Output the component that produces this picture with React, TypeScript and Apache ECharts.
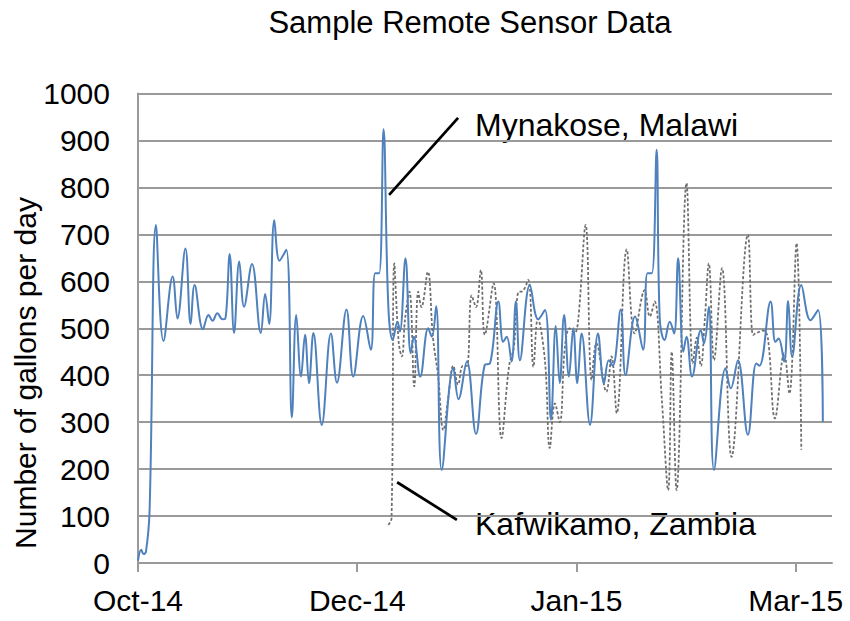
import React, { useEffect, useRef } from "react";
import * as echarts from "echarts";

const chartTitle = "Sample Remote Sensor Data";
const yAxisTitle = "Number of gallons per day";
const xTickValues = [0, 55, 110, 165];
const xTickLabels = ["Oct-14", "Dec-14", "Jan-15", "Mar-15"];
const xMax = 174.1;

const malawiName = "Mynakose, Malawi";
const zambiaName = "Kafwikamo, Zambia";

// [day index, gallons per day]
const malawi: [number, number][] = [
  [0.0, 5], [0.8, 28], [1.4, 19], [2.0, 24], [2.9, 110], [4.5, 720], [6.4, 473], [8.7, 610],
  [9.9, 521], [11.9, 670], [13.2, 509], [14.2, 592], [16.3, 498], [17.7, 528], [18.7, 516],
  [19.9, 532], [21.2, 519], [21.9, 520], [23.0, 658], [24.1, 490], [25.4, 642], [26.6, 546],
  [28.6, 637], [30.8, 490], [31.9, 573], [32.9, 509], [34.2, 730], [35.5, 644], [37.2, 667],
  [38.6, 310], [39.7, 528], [40.9, 397], [41.9, 486], [42.9, 383], [44.0, 490], [46.1, 294],
  [48.4, 489], [49.9, 384], [52.3, 540], [54.0, 397], [56.5, 526], [58.4, 454], [59.5, 617],
  [60.5, 617], [61.6, 924], [62.8, 546], [63.9, 475], [65.1, 514], [65.7, 493], [67.1, 649],
  [68.4, 447], [69.2, 482], [70.8, 397], [72.8, 500], [73.7, 482], [74.8, 547], [76.2, 198],
  [79.1, 415], [80.4, 349], [82.5, 429], [84.8, 275], [87.0, 422], [88.3, 425], [90.4, 557],
  [91.6, 471], [92.5, 482], [93.7, 429], [94.8, 557], [95.8, 432], [98.3, 592], [100.4, 519],
  [102.1, 539], [103.6, 305], [104.8, 505], [105.8, 383], [106.9, 528], [108.1, 397],
  [109.2, 500], [110.2, 383], [111.3, 489], [113.4, 294], [115.4, 489], [116.9, 383],
  [118.1, 432], [119.1, 420], [121.1, 540], [122.3, 400], [124.7, 525], [126.7, 454],
  [127.8, 617], [128.9, 617], [130.1, 880], [130.9, 518], [132.1, 475], [133.4, 514],
  [134.5, 489], [135.5, 649], [136.8, 450], [137.6, 482], [139.0, 397], [141.2, 496],
  [142.0, 468], [143.2, 546], [144.5, 198], [147.4, 415], [148.7, 372], [150.5, 432],
  [153.0, 273], [155.1, 425], [155.9, 420], [158.7, 557], [159.9, 471], [160.7, 478],
  [162.1, 429], [163.1, 558], [164.1, 440], [166.4, 592], [168.7, 517], [170.6, 539],
  [171.8, 301],
];

const zambia: [number, number][] = [
  [62.8, 81], [63.6, 95], [64.3, 638], [65.4, 470], [66.2, 440], [67.0, 520], [68.1, 578],
  [69.3, 376], [70.3, 578], [71.1, 545], [72.7, 620], [74.0, 480], [75.3, 397], [76.6, 283],
  [77.8, 350], [79.1, 420], [80.3, 380], [81.5, 420], [82.5, 420], [83.7, 570], [84.8, 545],
  [86.0, 624], [87.0, 486], [89.2, 596], [91.2, 266], [93.1, 420], [94.3, 460], [95.3, 575],
  [96.6, 580], [97.9, 603], [99.2, 418], [100.3, 520], [102.1, 430], [103.3, 245],
  [104.6, 340], [105.8, 300], [107.1, 460], [108.3, 500], [109.5, 490], [110.4, 515],
  [112.3, 720], [113.8, 390], [115.0, 468], [117.5, 365], [118.8, 440], [120.1, 319],
  [122.6, 668], [124.6, 489], [127.1, 581], [128.4, 525], [129.6, 557], [131.4, 350],
  [133.0, 155], [133.9, 450], [135.1, 155], [137.6, 809], [139.2, 425], [140.2, 480],
  [141.2, 420], [142.2, 520], [143.2, 638], [144.5, 432], [146.5, 628], [148.9, 226],
  [153.0, 699], [154.3, 486], [155.2, 490], [156.8, 495], [158.0, 480], [159.8, 308],
  [162.1, 447], [163.4, 361], [165.2, 681], [166.4, 241],
];

// leader lines in data coordinates: [[x1, y1], [x2, y2]]
const malawiLeader: [number, number][] = [[63.0, 784], [80.3, 948]];
const zambiaLeader: [number, number][] = [[65.0, 172], [80.0, 92]];

const FONT = "'Liberation Sans', Arial, sans-serif";
const GRID_COLOR = "#9a9a9a";

export default function App() {
  const ref = useRef<HTMLDivElement>(null);
  useEffect(() => {
    if (!ref.current) return;
    const chart = echarts.init(ref.current, null, { renderer: "svg" });
    chart.setOption({
      animation: false,
      backgroundColor: "#ffffff",
      textStyle: { fontFamily: FONT },
      grid: { left: 138, right: 18, top: 93.5, bottom: 58, containLabel: false },
      xAxis: {
        type: "value",
        min: 0,
        max: xMax,
        interval: 55,
        splitLine: { show: false },
        axisLine: { show: true, lineStyle: { color: GRID_COLOR, width: 2 } },
        axisTick: {
          show: true,
          customValues: xTickValues,
          length: 9,
          lineStyle: { color: GRID_COLOR, width: 2 },
        },
        axisLabel: {
          customValues: xTickValues,
          margin: 22,
          fontSize: 30,
          color: "#000",
          fontFamily: FONT,
          formatter: (v: number) => {
            const i = xTickValues.indexOf(Math.round(v));
            return i >= 0 ? xTickLabels[i] : "";
          },
        },
      },
      yAxis: {
        type: "value",
        min: 0,
        max: 1000,
        interval: 100,
        axisLine: { show: true, lineStyle: { color: GRID_COLOR, width: 2 } },
        axisTick: { show: false },
        splitLine: { show: true, lineStyle: { color: GRID_COLOR, width: 2 } },
        axisLabel: {
          margin: 28,
          fontSize: 30,
          color: "#000",
          fontFamily: FONT,
          formatter: (v: number) => String(v),
        },
      },
      graphic: [
        {
          type: "text",
          x: 470,
          y: 22,
          style: {
            text: chartTitle,
            fontSize: 31,
            fontFamily: FONT,
            fill: "#000",
            textAlign: "center",
            textVerticalAlign: "middle",
          },
        },
        {
          type: "text",
          x: 25,
          y: 373,
          rotation: Math.PI / 2,
          style: {
            text: yAxisTitle,
            fontSize: 30,
            fontFamily: FONT,
            fill: "#000",
            textAlign: "center",
            textVerticalAlign: "middle",
          },
        },
        {
          type: "text",
          x: 475,
          y: 125,
          style: {
            text: malawiName,
            fontSize: 32,
            fontFamily: FONT,
            fill: "#000",
            textAlign: "left",
            textVerticalAlign: "middle",
          },
        },
        {
          type: "text",
          x: 475,
          y: 524,
          style: {
            text: zambiaName,
            fontSize: 32,
            fontFamily: FONT,
            fill: "#000",
            textAlign: "left",
            textVerticalAlign: "middle",
          },
        },
      ],
      series: [
        {
          name: zambiaName,
          type: "line",
          data: zambia,
          smooth: 0.4,
          showSymbol: false,
          lineStyle: { color: "#6e6e6e", width: 1.75, type: [3, 2] },
          z: 2,
        },
        {
          name: malawiName,
          type: "line",
          data: malawi,
          smooth: 0.4,
          showSymbol: false,
          lineStyle: { color: "#4f81bd", width: 2 },
          z: 3,
          markLine: {
            silent: true,
            symbol: ["none", "none"],
            label: { show: false },
            lineStyle: { color: "#000", width: 2.75, type: "solid" },
            data: [
              [{ coord: malawiLeader[0] }, { coord: malawiLeader[1] }],
              [{ coord: zambiaLeader[0] }, { coord: zambiaLeader[1] }],
            ],
          },
        },
      ],
    });
    return () => chart.dispose();
  }, []);
  return (
    <div
      ref={ref}
      style={{ position: "fixed", left: 0, top: 0, width: 850, height: 621 }}
    />
  );
}
